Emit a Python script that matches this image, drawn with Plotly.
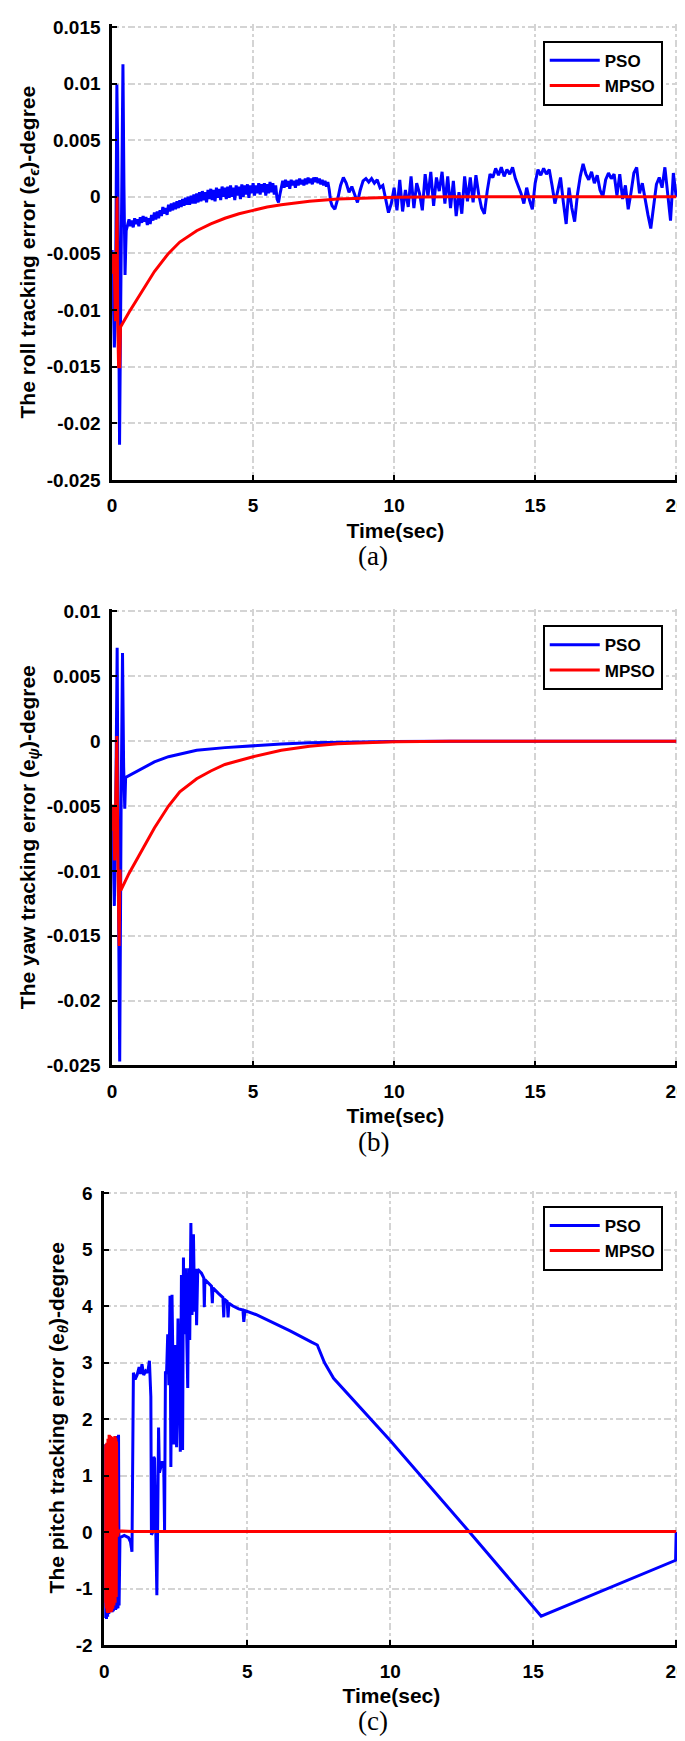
import plotly.graph_objects as go

W, H = 685, 1741

# ---------------- axis ticks ----------------
x_ticks = [0, 5, 10, 15, 20]
x_tick_labels = ["0", "5", "10", "15", "20"]
roll_yticks = [-0.025, -0.02, -0.015, -0.01, -0.005, 0, 0.005, 0.01, 0.015]
roll_ylabels = ["-0.025", "-0.02", "-0.015", "-0.01", "-0.005", "0", "0.005", "0.01", "0.015"]
yaw_yticks = [-0.025, -0.02, -0.015, -0.01, -0.005, 0, 0.005, 0.01]
yaw_ylabels = ["-0.025", "-0.02", "-0.015", "-0.01", "-0.005", "0", "0.005", "0.01"]
pitch_yticks = [-2, -1, 0, 1, 2, 3, 4, 5, 6]
pitch_ylabels = ["-2", "-1", "0", "1", "2", "3", "4", "5", "6"]

# ---------------- (a) roll ----------------
roll_pso_t = [0.00, 0.04, 0.08, 0.12, 0.17, 0.20, 0.23, 0.265, 0.30, 0.34, 0.385, 0.42, 0.46, 0.50,
              0.55, 0.60, 0.65, 0.70, 0.75, 0.80, 0.85, 0.90, 0.95, 1.00,
              1.05, 1.10, 1.15, 1.20, 1.25, 1.30, 1.35, 1.40, 1.45, 1.50,
              1.55, 1.60, 1.65, 1.70, 1.75, 1.80, 1.85, 1.90, 1.95, 2.00,
              2.05, 2.10, 2.15, 2.20, 2.25, 2.30, 2.35, 2.40, 2.45, 2.50,
              2.55, 2.60, 2.65, 2.70, 2.75, 2.80, 2.85, 2.90, 2.95, 3.00,
              3.05, 3.10, 3.15, 3.20, 3.25, 3.30, 3.35, 3.40, 3.45, 3.50,
              3.55, 3.60, 3.65, 3.70, 3.75, 3.80, 3.85, 3.90, 3.95, 4.00,
              4.05, 4.10, 4.15, 4.20, 4.25, 4.30, 4.35, 4.40, 4.45, 4.50,
              4.55, 4.60, 4.65, 4.70, 4.75, 4.80, 4.85, 4.90, 4.95, 5.00,
              5.05, 5.10, 5.15, 5.20, 5.25, 5.30, 5.35, 5.40, 5.45, 5.50,
              5.55, 5.60, 5.65, 5.70, 5.75, 5.80, 5.85, 5.90, 5.95, 6.00,
              6.05, 6.10, 6.15, 6.20, 6.25, 6.30, 6.35, 6.40, 6.45, 6.50,
              6.55, 6.60, 6.65, 6.70, 6.75, 6.80, 6.85, 6.90, 6.95, 7.00,
              7.05, 7.10, 7.15, 7.20, 7.25, 7.30, 7.35, 7.40, 7.45, 7.50,
              7.55, 7.60, 7.65, 7.70, 7.75,
              7.8, 7.9, 8.0, 8.1, 8.2, 8.3, 8.4, 8.5, 8.6, 8.7, 8.8, 8.9, 9.0, 9.1, 9.2, 9.3, 9.4, 9.5,
              9.6, 9.7, 9.8, 9.9, 10.0, 10.1, 10.2, 10.3, 10.4, 10.5, 10.6, 10.7, 10.8, 10.9, 11.0, 11.1,
              11.2, 11.3, 11.4, 11.5, 11.6, 11.7, 11.8, 11.9, 12.0, 12.1, 12.2, 12.3, 12.4, 12.5, 12.6,
              12.7, 12.8, 12.9, 13.0, 13.1, 13.2, 13.3, 13.4, 13.5, 13.6, 13.7, 13.8, 13.9, 14.0, 14.1,
              14.2, 14.3, 14.4, 14.5, 14.6, 14.7, 14.8, 14.9, 15.0, 15.1, 15.2, 15.3, 15.4, 15.5, 15.6,
              15.7, 15.8, 15.9, 16.0, 16.1, 16.2, 16.3, 16.4, 16.5, 16.6, 16.7, 16.8, 16.9, 17.0, 17.1,
              17.2, 17.3, 17.4, 17.5, 17.6, 17.7, 17.8, 17.9, 18.0, 18.1, 18.2, 18.3, 18.4, 18.5, 18.6,
              18.7, 18.8, 18.9, 19.0, 19.1, 19.2, 19.3, 19.4, 19.5, 19.6, 19.7, 19.8, 19.9, 20.0]
roll_pso_e = [-0.0047, -0.0080, -0.0133, -0.0102, 0.0099, 0.0040, -0.0080, -0.0219, -0.0110, 0.0000,
              0.0117, 0.0010, -0.0069, -0.0030,
              -0.0025, -0.0020, -0.0026, -0.0021, -0.0027, -0.0019, -0.0024, -0.0020, -0.0026, -0.0018,
              -0.0023, -0.0017, -0.0022, -0.0018, -0.0025, -0.0019, -0.0024, -0.0016, -0.0021, -0.0014,
              -0.0020, -0.0013, -0.0019, -0.0012, -0.0017, -0.0009, -0.0015, -0.0010, -0.0016, -0.0007,
              -0.0013, -0.0006, -0.0012, -0.0005, -0.0011, -0.0004, -0.0010, -0.0003, -0.0009, -0.0002,
              -0.0008, -0.0001, -0.0007, 0.0000, -0.0007, 0.0001, -0.0006, 0.0002, -0.0006, 0.0003,
              -0.0005, 0.0004, -0.0004, 0.0005, -0.0003, 0.0004, -0.0005, 0.0006, -0.0002, 0.0007,
              -0.0003, 0.0006, -0.0004, 0.0008, -0.0001, 0.0007, -0.0003, 0.0009, 0.0000, 0.0008,
              -0.0002, 0.0009, -0.0001, 0.0010, 0.0000, 0.0008, -0.0003, 0.0010, 0.0001, 0.0009,
              -0.0002, 0.0011, 0.0000, 0.0010, 0.0002, 0.0011, -0.0001, 0.0010, 0.0003, 0.0012,
              0.0001, 0.0010, 0.0003, 0.0012, 0.0002, 0.0011, 0.0004, 0.0012, 0.0001, 0.0011,
              0.0003, 0.0013, 0.0004, 0.0012, 0.0002, 0.0010, -0.0002, -0.0005, 0.0002, 0.0009,
              0.0014, 0.0008, 0.0015, 0.0009, 0.0014, 0.0007, 0.0015, 0.0010, 0.0014, 0.0008,
              0.0015, 0.0010, 0.0016, 0.0011, 0.0015, 0.0010, 0.0016, 0.0011, 0.0017, 0.0012,
              0.0016, 0.0011, 0.0017, 0.0013, 0.0017, 0.0012, 0.0016, 0.0011, 0.0015, 0.0010,
              0.0014, 0.0009, 0.0013, 0.0006, -0.0004,
              -0.0008, -0.0011, -0.0002, 0.0010, 0.0017, 0.0012, 0.0004, 0.0009, 0.0002, -0.0005,
              0.0006, 0.0014, 0.0016, 0.0013, 0.0016, 0.0012, 0.0015, 0.0008, 0.0010, -0.0002,
              -0.0014, -0.0006, 0.0008, -0.0012, 0.0015, -0.0013, 0.0006, -0.0009, 0.0018, -0.0010,
              0.0012, 0.0003, -0.0012, 0.0020, 0.0000, 0.0022, -0.0008, 0.0017, 0.0005, 0.0022,
              -0.0006, 0.0018, -0.0010, 0.0014, -0.0017, 0.0004, -0.0015, 0.0018, -0.0004, 0.0017,
              -0.0005, 0.0019, 0.0002, -0.0010, -0.0015, 0.0005, 0.0020, 0.0017, 0.0025, 0.0019,
              0.0026, 0.0018, 0.0024, 0.0020, 0.0026, 0.0016, 0.0010, 0.0003, -0.0006, 0.0008,
              -0.0003, -0.0011, 0.0012, 0.0024, 0.0019, 0.0025, 0.0020, 0.0024, 0.0010, -0.0006,
              0.0005, 0.0017, -0.0005, -0.0024, 0.0008, -0.0010, -0.0022, 0.0002, 0.0018, 0.0029,
              0.0020, 0.0015, 0.0022, 0.0012, 0.0019, 0.0006, 0.0000, 0.0015, 0.0021, 0.0016,
              0.0020, 0.0001, 0.0020, -0.0002, 0.0010, -0.0011, 0.0004, 0.0021, 0.0026, 0.0003,
              0.0012, -0.0003, -0.0016, -0.0028, -0.0008, 0.0011, 0.0017, 0.0008, 0.0026, 0.0001,
              -0.0021, 0.0021, 0.0000]
roll_mpso_t = [0.00, 0.04, 0.08, 0.12, 0.15, 0.175, 0.20, 0.23, 0.27, 0.30, 0.6, 1.0, 1.5, 2.0, 2.4, 3.0,
               3.5, 4.0, 4.5, 5.0, 5.5, 6.0, 7.0, 8.0, 9.0, 10.0, 11.0, 12.0, 20.0]
roll_mpso_e = [-0.0068, -0.0049, -0.0065, -0.0110, -0.0050, 0.0000, -0.0110, -0.0150, -0.0150, -0.0115,
               -0.0102, -0.0086, -0.0066, -0.0050, -0.0040, -0.0030, -0.0024, -0.0019, -0.0015, -0.0012,
               -0.0009, -0.0007, -0.0004, -0.0002, -0.0001, -0.00005, -0.00002, 0.0, 0.0]

# ---------------- (b) yaw ----------------
yaw_pso_t = [0.00, 0.04, 0.08, 0.13, 0.18, 0.22, 0.27, 0.32, 0.37, 0.41, 0.45, 0.48, 1.0, 1.5, 2.0, 2.4,
             3.0, 4.0, 5.0, 6.0, 7.0, 8.0, 10.0, 12.0, 20.0]
yaw_pso_e = [-0.0050, -0.0100, -0.0127, -0.0050, 0.0072, -0.0100, -0.0247, -0.0050, 0.0068, -0.0020,
             -0.0052, -0.0028, -0.0022, -0.0016, -0.0012, -0.0010, -0.0007, -0.0005, -0.00035, -0.00022,
             -0.00013, -0.00008, -0.00002, 0.0, 0.0]
yaw_mpso_t = [0.00, 0.05, 0.09, 0.13, 0.17, 0.21, 0.25, 0.28, 0.31, 0.6, 1.0, 1.5, 2.0, 2.4, 3.0, 3.5,
              4.0, 4.5, 5.0, 6.0, 7.0, 8.0, 9.0, 10.0, 11.0, 12.0, 20.0]
yaw_mpso_e = [-0.0069, -0.0049, -0.0092, -0.0050, 0.0004, -0.0100, -0.0158, -0.0099, -0.0115, -0.0102,
              -0.0086, -0.0067, -0.0050, -0.0039, -0.0029, -0.0023, -0.0018, -0.0015, -0.0012, -0.0007,
              -0.0004, -0.0002, -0.0001, -0.00005, -0.00002, 0.0, 0.0]

# ---------------- (c) pitch ----------------
pitch_pso_t = [0.00, 0.02, 0.04, 0.06, 0.08, 0.10, 0.12, 0.14, 0.16, 0.18, 0.20, 0.22, 0.24, 0.26, 0.28,
               0.30, 0.32, 0.34, 0.36, 0.38, 0.40, 0.42, 0.44, 0.46, 0.48, 0.50, 0.52, 0.55, 0.70, 0.85,
               0.92, 0.97, 1.02, 1.08, 1.15, 1.22, 1.27, 1.32, 1.38, 1.45, 1.52, 1.58, 1.63, 1.65, 1.70,
               1.73, 1.76, 1.80, 1.84, 1.87, 1.90, 1.93, 1.98, 2.03, 2.08, 2.11, 2.14, 2.18, 2.22, 2.26,
               2.30, 2.33, 2.37, 2.40, 2.44, 2.49, 2.53, 2.58, 2.63, 2.66, 2.70, 2.74, 2.77, 2.80, 2.84,
               2.88, 2.92, 2.95, 2.99, 3.03, 3.07, 3.12, 3.16, 3.20, 3.23, 3.27, 3.40, 3.48, 3.50, 3.52,
               3.65, 3.75, 3.78, 3.80, 4.00, 4.15, 4.18, 4.20, 4.30, 4.33, 4.36, 4.50, 4.70, 4.85, 4.88,
               4.92, 5.30, 5.60, 6.50, 7.25, 7.45, 7.70, 8.02, 10.0, 12.77, 15.28, 19.98, 20.0]
pitch_pso_e = [0.00, 1.55, -1.52, 1.56, -1.54, 1.52, -1.50, 1.55, -1.45, 1.58, -1.42, 1.60, -1.40, 1.62,
               -1.42, 1.60, -1.40, 1.65, -1.38, 1.66, -1.38, 1.68, -1.36, 1.70, -1.35, 1.72, -1.30, -0.10,
               -0.06, -0.10, -0.18, -0.35, 2.82, 2.70, 2.78, 2.92, 2.80, 2.97, 2.78, 2.85, 2.82, 3.03, 2.40,
               -0.05, 0.00, 1.33, 1.30, -0.30, -1.12, 0.20, 1.85, 1.05, 1.15, 1.25, 1.20, 0.02, 2.82, 2.82,
               3.50, 2.60, 4.18, 1.15, 4.20, 3.20, 1.55, 3.31, 1.50, 3.78, 1.65, 1.42, 4.55, 1.45, 4.86,
               3.50, 4.67, 3.15, 2.55, 4.67, 3.40, 5.47, 3.84, 5.27, 3.90, 4.66, 3.66, 4.65, 4.58, 4.50,
               3.98, 4.47, 4.40, 4.35, 4.05, 4.32, 4.22, 4.15, 3.80, 4.12, 4.08, 3.80, 4.05, 4.00, 3.95,
               3.93, 3.72, 3.92, 3.85, 3.78, 3.56, 3.36, 3.31, 3.00, 2.72, 1.62, 0.00, -1.49, -0.50, 0.00]
pitch_mpso_t = [0.00, 0.01, 0.02, 0.03, 0.04, 0.05, 0.06, 0.07, 0.08, 0.09, 0.10, 0.11, 0.12, 0.13, 0.14,
                0.15, 0.16, 0.17, 0.18, 0.19, 0.20, 0.21, 0.22, 0.23, 0.24, 0.25, 0.26, 0.27, 0.28, 0.29,
                0.30, 0.31, 0.32, 0.33, 0.34, 0.35, 0.36, 0.37, 0.38, 0.39, 0.40, 0.41, 0.42, 0.43, 0.44,
                0.45, 0.47, 0.50, 1.00, 20.0]
pitch_mpso_e = [0.00, 1.50, -1.10, 1.52, -1.25, 1.55, -1.30, 1.55, -1.35, 1.58, -1.40, 1.60, -1.42, 1.65,
                -1.40, 1.70, -1.43, 1.72, -1.42, 1.70, -1.40, 1.68, -1.40, 1.70, -1.42, 1.68, -1.40, 1.66,
                -1.38, 1.65, -1.36, 1.62, -1.35, 1.65, -1.30, 1.68, -1.28, 1.70, -1.25, 1.66, -1.20, 1.64,
                -1.15, 1.60, -0.60, 0.10, -0.08, 0.02, 0.01, 0.01]

BLUE = "#0000ff"
RED = "#ff0000"
FONT = "Liberation Sans"
PAD = 2.5  # px of headroom so the edge grid lines (x=20, top tick) are drawn

# pixel layout of the three panels (left, right, top, bottom)
panels = [
    dict(l=101, r=676, t=11, b=469, yr=[-0.025, 0.015], yt=roll_yticks, yl=roll_ylabels,
         title="The roll tracking error (e<sub><i>ϵ</i></sub>)-degree", tag="(a)", leg_top=25,
         pso=(roll_pso_t, roll_pso_e), mpso=(roll_mpso_t, roll_mpso_e)),
    dict(l=101, r=676, t=602, b=1061, yr=[-0.025, 0.01], yt=yaw_yticks, yl=yaw_ylabels,
         title="The yaw tracking error (e<sub><i>ψ</i></sub>)-degree", tag="(b)", leg_top=616,
         pso=(yaw_pso_t, yaw_pso_e), mpso=(yaw_mpso_t, yaw_mpso_e)),
    dict(l=93, r=676, t=1190, b=1647, yr=[-2, 6], yt=pitch_yticks, yl=pitch_ylabels,
         title="The pitch tracking error (e<sub><i>θ</i></sub>)-degree", tag="(c)", leg_top=1203,
         pso=(pitch_pso_t, pitch_pso_e), mpso=(pitch_mpso_t, pitch_mpso_e)),
]

fig = go.Figure()
annotations = []
layout = dict(width=W, height=H, margin=dict(l=0, r=0, t=0, b=0),
              paper_bgcolor="white", plot_bgcolor="white", showlegend=True)

for i, p in enumerate(panels, start=1):
    sfx = "" if i == 1 else str(i)
    leg = "legend" if i == 1 else f"legend{i}"
    fig.add_trace(go.Scatter(x=p["pso"][0], y=p["pso"][1], mode="lines", name="PSO",
                             line=dict(color=BLUE, width=3), xaxis="x" + sfx, yaxis="y" + sfx,
                             legend=leg))
    fig.add_trace(go.Scatter(x=p["mpso"][0], y=p["mpso"][1], mode="lines", name="MPSO",
                             line=dict(color=RED, width=3), xaxis="x" + sfx, yaxis="y" + sfx,
                             legend=leg))
    # extend the ranges by a couple of pixels so the edge grid lines survive
    xw = p["r"] - p["l"]
    yh = p["b"] - p["t"]
    xpad = 20 * PAD / xw
    ypad = (p["yr"][1] - p["yr"][0]) * PAD / yh
    common = dict(showline=True, linecolor="black", linewidth=2.5, ticks="inside", ticklen=5,
                  tickwidth=2, tickcolor="black", showgrid=True, gridcolor="#d4d4d4", gridwidth=1.6,
                  griddash="7px,3px,3px,3px", zeroline=False,
                  tickfont=dict(family=FONT, size=19, color="black", weight="bold"))
    layout["xaxis" + sfx] = dict(common, domain=[p["l"] / W, (p["r"] + PAD) / W], range=[0, 20 + xpad],
                                 tickvals=x_ticks, ticktext=x_tick_labels, anchor="y" + sfx,
                                 ticklabelstandoff=7, ticklabeloverflow="allow",
                                 title=dict(text="Time(sec)", standoff=8,
                                            font=dict(family=FONT, size=21, color="black", weight="bold")))
    layout["yaxis" + sfx] = dict(common, domain=[1 - p["b"] / H, 1 - (p["t"] - PAD) / H],
                                 range=[p["yr"][0], p["yr"][1] + ypad],
                                 tickvals=p["yt"], ticktext=p["yl"], anchor="x" + sfx,
                                 ticklabelstandoff=5,
                                 title=dict(text=p["title"], standoff=6,
                                            font=dict(family=FONT, size=21, color="black", weight="bold")))
    layout[leg] = dict(x=540 / W, y=1 - p["leg_top"] / H, xanchor="left", yanchor="top",
                       bgcolor="white", bordercolor="black", borderwidth=2, itemwidth=50,
                       tracegroupgap=0,
                       font=dict(family=FONT, size=17, color="black", weight="bold"))
    annotations.append(dict(text=p["tag"], x=367 / W, y=1 - (p["b"] + 77) / H, xref="paper",
                            yref="paper", xanchor="center", yanchor="middle", showarrow=False,
                            font=dict(family="Liberation Serif", size=27, color="black")))

layout["annotations"] = annotations
fig.update_layout(**layout)
fig.write_html("out.html")
